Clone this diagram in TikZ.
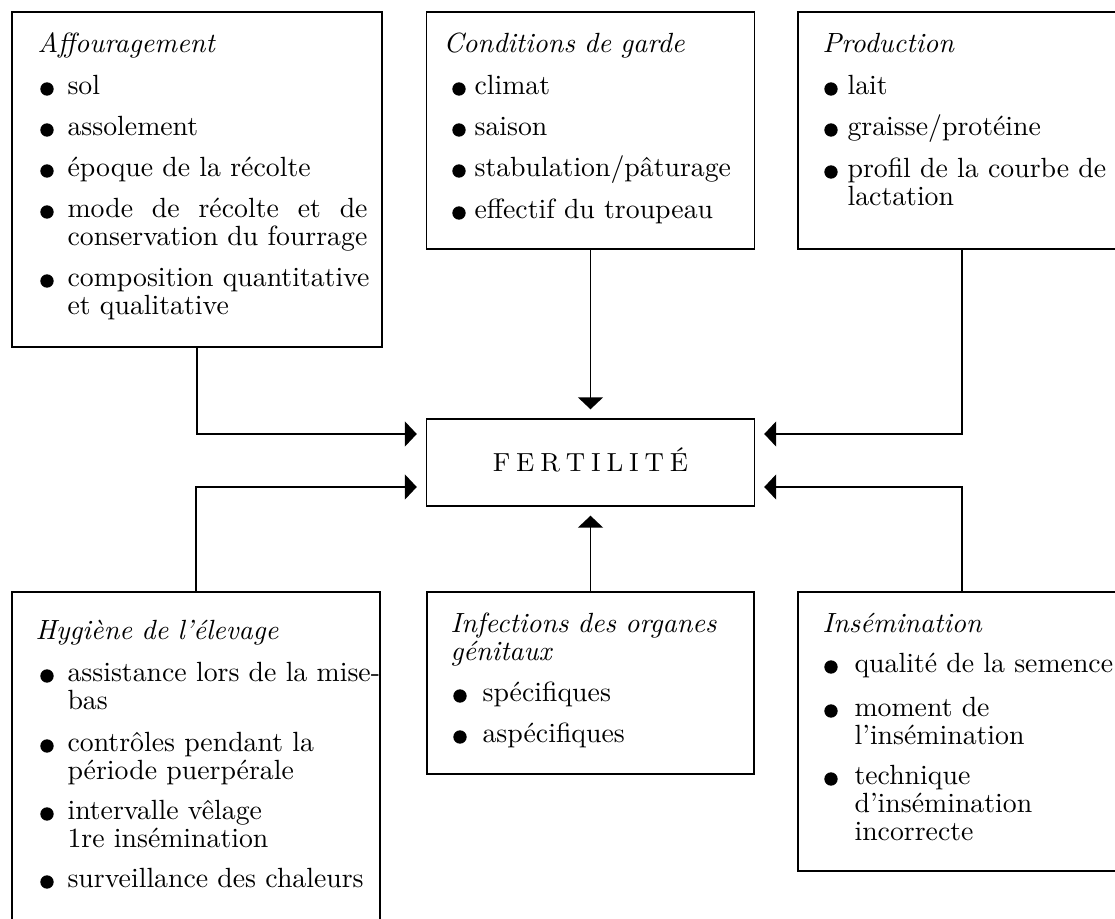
\documentclass[tikz,border=0pt]{standalone}
\usetikzlibrary{arrows.meta}
\def\pxu{0.36pt}
\tikzset{
  box/.style={draw, line width=0.6pt, inner sep=0pt},
  ttl/.style={anchor=base west, inner sep=0pt, font=\fontsize{10}{10.08}\selectfont\itshape, text width=340*\pxu, align=left},
  itm/.style={anchor=base west, inner sep=0pt, font=\fontsize{10}{10.08}\selectfont, text width=340*\pxu, align=left},
  bul/.style={fill=black},
  arr/.style={line width=0.6pt, -{Triangle[length=4.3pt,width=9pt]}},
  link/.style={line width=0.6pt}
}
\newcommand\bitem[5]{%
  \fill[bul] (#2,#4-6) circle[radius=2.4pt];
  \node[itm] (#1) at (#3,#4) {#5};}
\begin{document}
\begin{tikzpicture}[x=0.36pt,y=-0.36pt]
\useasboundingbox (0,0) rectangle (1115,919);
\clip (0,0) rectangle (1115,919);
\fill[white] (0,0) rectangle (1115,919);

% boxes
\node[box, minimum width=370*\pxu, minimum height=335*\pxu] (aff) at (197,179.5) {};
\node[box, minimum width=328*\pxu, minimum height=237*\pxu] (cond) at (590.5,130.5) {};
\node[box, minimum width=328*\pxu, minimum height=237*\pxu] (prod) at (962,130.5) {};
\node[box, minimum width=328*\pxu, minimum height=87*\pxu, outer sep=3.5pt,
      font=\fontsize{9.4}{11}\selectfont, text height=6.4pt, text depth=0pt] (fert) at (590.5,462.5)
      {F\kern2.1pt E\kern2.1pt R\kern2.1pt T\kern2.1pt I\kern2.1pt L\kern2.1pt I\kern2.1pt T\kern2.1pt É};
\node[box, minimum width=368*\pxu, minimum height=358*\pxu] (hyg) at (196,771) {};
\node[box, minimum width=327*\pxu, minimum height=182*\pxu] (inf) at (590.5,683) {};
\node[box, minimum width=328*\pxu, minimum height=279*\pxu] (ins) at (962,731.5) {};

% Affouragement
\node[ttl] (aff-t) at (37,53) {Affouragement};
\bitem{aff-1}{47}{67}{95}{sol}
\bitem{aff-2}{47}{67}{136}{assolement}
\bitem{aff-3}{47}{67}{177}{époque de la récolte}
\fill[bul] (47,212) circle[radius=2.4pt];
\node[itm, text width=300*\pxu, align=justify] (aff-4) at (67,218) {mode de récolte et de\linebreak conservation du fourrage};
\bitem{aff-5}{47}{67}{287}{composition quantitative\\et qualitative}

% Conditions de garde
\node[ttl] (cond-t) at (443,53) {Conditions de garde};
\bitem{cond-1}{459}{474}{95}{climat}
\bitem{cond-2}{459}{474}{136}{saison}
\bitem{cond-3}{459}{474}{177}{stabulation/pâturage}
\bitem{cond-4}{459}{474}{219}{effectif du troupeau}

% Production
\node[ttl] (prod-t) at (822,53) {Production};
\bitem{prod-1}{831}{847}{95}{lait}
\bitem{prod-2}{831}{847}{136}{graisse/protéine}
\bitem{prod-3}{831}{847}{178}{profil de la courbe de\\lactation}

% Hygiene
\node[ttl] (hyg-t) at (35,640) {Hygiène de l'élevage};
\bitem{hyg-1}{47}{67}{682}{assistance lors de la mise-\\bas}
\bitem{hyg-2}{47}{67}{752}{contrôles pendant la\\période puerpérale}
\bitem{hyg-3}{47}{67}{820}{intervalle vêlage\\1re insémination}
\bitem{hyg-4}{47}{67}{888}{surveillance des chaleurs}

% Infections
\node[ttl] (inf-t) at (450,633) {Infections des organes\\génitaux};
\bitem{inf-1}{460}{482}{702}{spécifiques}
\bitem{inf-2}{460}{482}{743}{aspécifiques}

% Insemination
\node[ttl] (ins-t) at (822,633) {Insémination};
\bitem{ins-1}{831}{854}{673}{qualité de la semence}
\bitem{ins-2}{831}{854}{717}{moment de\\l'insémination}
\bitem{ins-3}{831}{854}{785}{technique\\d'insémination\\incorrecte}

% connectors
\coordinate (upper) at (0,434);
\coordinate (lower) at (0,487);
\draw[arr] (aff.south) |- (fert.west |- upper);
\draw[arr] (cond.south) -- (fert.north);
\draw[arr] (prod.south) |- (fert.east |- upper);
\draw[arr] (hyg.north) |- (fert.west |- lower);
\draw[arr] (inf.north) -- (fert.south);
\draw[arr] (ins.north) |- (fert.east |- lower);
\end{tikzpicture}
\end{document}
